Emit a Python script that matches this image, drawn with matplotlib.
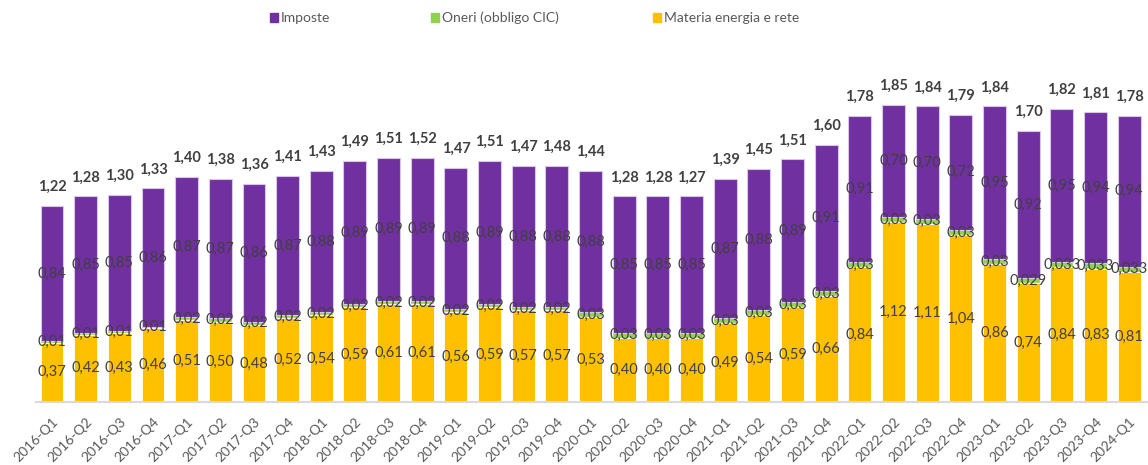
import matplotlib
matplotlib.use("Agg")
import matplotlib.pyplot as plt
from matplotlib.patches import Rectangle
import numpy as np

plt.rcParams['font.family'] = ['Lato', 'DejaVu Sans']

quarters = [
    "2016-Q1", "2016-Q2", "2016-Q3", "2016-Q4",
    "2017-Q1", "2017-Q2", "2017-Q3", "2017-Q4",
    "2018-Q1", "2018-Q2", "2018-Q3", "2018-Q4",
    "2019-Q1", "2019-Q2", "2019-Q3", "2019-Q4",
    "2020-Q1", "2020-Q2", "2020-Q3", "2020-Q4",
    "2021-Q1", "2021-Q2", "2021-Q3", "2021-Q4",
    "2022-Q1", "2022-Q2", "2022-Q3", "2022-Q4",
    "2023-Q1", "2023-Q2", "2023-Q3", "2023-Q4",
    "2024-Q1",
]
materia = [0.37, 0.42, 0.43, 0.46, 0.51, 0.50, 0.48, 0.52, 0.54, 0.59, 0.61,
           0.61, 0.56, 0.59, 0.57, 0.57, 0.53, 0.40, 0.40, 0.40, 0.49, 0.54,
           0.59, 0.66, 0.84, 1.12, 1.11, 1.04, 0.86, 0.74, 0.84, 0.83, 0.81]
oneri = [0.01, 0.01, 0.01, 0.01, 0.02, 0.02, 0.02, 0.02, 0.02, 0.02, 0.02,
         0.02, 0.02, 0.02, 0.02, 0.02, 0.03, 0.03, 0.03, 0.03, 0.03, 0.03,
         0.03, 0.03, 0.03, 0.03, 0.03, 0.03, 0.03, 0.029, 0.033, 0.033, 0.033]
imposte = [0.84, 0.85, 0.85, 0.86, 0.87, 0.87, 0.86, 0.87, 0.88, 0.89, 0.89,
           0.89, 0.88, 0.89, 0.88, 0.88, 0.88, 0.85, 0.85, 0.85, 0.87, 0.88,
           0.89, 0.91, 0.91, 0.70, 0.70, 0.72, 0.95, 0.92, 0.95, 0.94, 0.94]
totali = [1.22, 1.28, 1.30, 1.33, 1.40, 1.38, 1.36, 1.41, 1.43, 1.49, 1.51,
          1.52, 1.47, 1.51, 1.47, 1.48, 1.44, 1.28, 1.28, 1.27, 1.39, 1.45,
          1.51, 1.60, 1.78, 1.85, 1.84, 1.79, 1.84, 1.70, 1.82, 1.81, 1.78]

C_IMP = "#7030A0"
C_ONE = "#92D050"
C_MAT = "#FFC000"
TXT = "#404040"

def fmt2(v):
    return f"{v:.2f}".replace(".", ",")

def fmt_var(v):
    s = f"{v:.3f}".rstrip("0")
    if s.endswith("."):
        s += "0"
    return s.replace(".", ",")

W, H = 1148, 465
fig = plt.figure(figsize=(W / 100, H / 100), dpi=100)
ax = fig.add_axes([36 / W, (H - 402) / H, 1 - 36 / W, 402 / H])

x = np.arange(len(quarters))
m = np.array(materia)
o = np.array(oneri)
i = np.array(imposte)
bw = 0.68
ax.bar(x, m, bw, color=C_MAT, edgecolor="white", linewidth=0.6, zorder=2)
ax.bar(x, o, bw, bottom=m, color=C_ONE, edgecolor="white", linewidth=0.3, zorder=2)
ax.bar(x, i, bw, bottom=m + o, color=C_IMP, edgecolor="#d8c6e6", linewidth=0.8, zorder=2)

for k in range(len(x)):
    ax.text(x[k], m[k] / 2, fmt2(m[k]), ha="center", va="center",
            fontsize=10.5, color=TXT, zorder=3)
    ax.text(x[k], m[k] + o[k] / 2, fmt_var(o[k]), ha="center", va="center",
            fontsize=10.5, color=TXT, zorder=3)
    ax.text(x[k], m[k] + o[k] + i[k] / 2, fmt2(i[k]), ha="center", va="center",
            fontsize=10.5, color=TXT, zorder=3)
    ax.text(x[k], m[k] + o[k] + i[k] + 0.075, fmt2(totali[k]), ha="center",
            va="bottom", fontsize=10.5, fontweight="bold", color=TXT, zorder=3)

ax.set_xlim(-0.475, len(x) - 1 + 0.56)
ax.set_ylim(0, 2.503)
for s in ["top", "right", "left"]:
    ax.spines[s].set_visible(False)
ax.spines["bottom"].set_color("#d9d9d9")
ax.spines["bottom"].set_linewidth(1.5)
ax.set_yticks([])
ax.set_xticks(x)
ax.set_xticklabels(quarters, rotation=45, ha="right", rotation_mode="anchor",
                   fontsize=10, color="#595959")
ax.tick_params(axis="x", length=0, pad=10)

# legend entries across the top
legend_items = [(270, "Imposte", C_IMP), (431, "Oneri (obbligo CIC)", C_ONE),
                (653, "Materia energia e rete", C_MAT)]
for px, label, col in legend_items:
    fig.patches.append(Rectangle((px / W, (H - 22.5) / H), 8 / W, 9 / H,
                                 transform=fig.transFigure, color=col))
    fig.text((px + 11) / W, (H - 18) / H, label, ha="left", va="center",
             fontsize=10, color="#595959")

fig.savefig("out.png", dpi=100)
